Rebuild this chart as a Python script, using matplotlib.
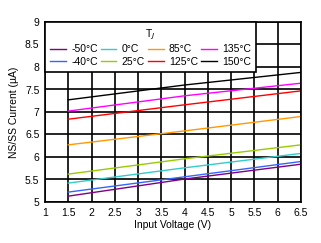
import matplotlib
matplotlib.use("Agg")
import matplotlib.pyplot as plt

# ===== DATA =====

vin = [1.5, 4.0, 6.5]

temps = ["-50°C", "-40°C", "0°C", "25°C", "85°C", "125°C", "135°C", "150°C"]
colors = ["#800080", "#3366ff", "#33cccc", "#99cc00", "#ff9900", "#ff0000", "#ff00ff", "#000000"]

i_m50 = [5.13, 5.51, 5.84]
i_m40 = [5.22, 5.56, 5.90]
i_0 = [5.42, 5.76, 6.08]
i_25 = [5.62, 5.96, 6.27]
i_85 = [6.27, 6.58, 6.90]
i_125 = [6.84, 7.16, 7.47]
i_135 = [7.02, 7.36, 7.64]
i_150 = [7.27, 7.60, 7.88]

currents = [i_m50, i_m40, i_0, i_25, i_85, i_125, i_135, i_150]

xticks = [1, 1.5, 2, 2.5, 3, 3.5, 4, 4.5, 5, 5.5, 6, 6.5]
yticks = [5, 5.5, 6, 6.5, 7, 7.5, 8, 8.5, 9]

# ===== PLOT =====

plt.rcParams["font.family"] = ["Liberation Sans", "DejaVu Sans"]
plt.rcParams["font.size"] = 7.5

fig = plt.figure(figsize=(3.21, 2.43), dpi=100)
ax = fig.add_axes([45 / 321, 41 / 243, 256 / 321, 180 / 243])

for lbl, col, cur in zip(temps, colors, currents):
    ax.plot(vin, cur, color=col, lw=1.0, label=lbl)

ax.set_xlim(1, 6.5)
ax.set_ylim(5, 9)
ax.set_xticks(xticks)
ax.set_xticklabels([f"{t:g}" for t in xticks])
ax.set_yticks(yticks)
ax.set_yticklabels([f"{t:g}" for t in yticks])
ax.tick_params(length=0, pad=4)
ax.grid(True, color="black", lw=1.2)
ax.set_axisbelow(True)
for s in ax.spines.values():
    s.set_color("black")
    s.set_linewidth(1.2)

ax.set_xlabel("Input Voltage (V)", labelpad=2)
ax.set_ylabel("NS/SS Current (µA)", labelpad=4)

leg = ax.legend(title="T$_J$", ncol=4, loc="upper left", bbox_to_anchor=(0, 1),
                borderaxespad=0, borderpad=0.5, fancybox=False, framealpha=1,
                edgecolor="black", handlelength=1.5, handletextpad=0.5,
                columnspacing=0.3, labelspacing=0.25, fontsize=7.5,
                title_fontsize=7.5)
leg.get_frame().set_linewidth(1.2)

fig.savefig("out.png", dpi=100)
